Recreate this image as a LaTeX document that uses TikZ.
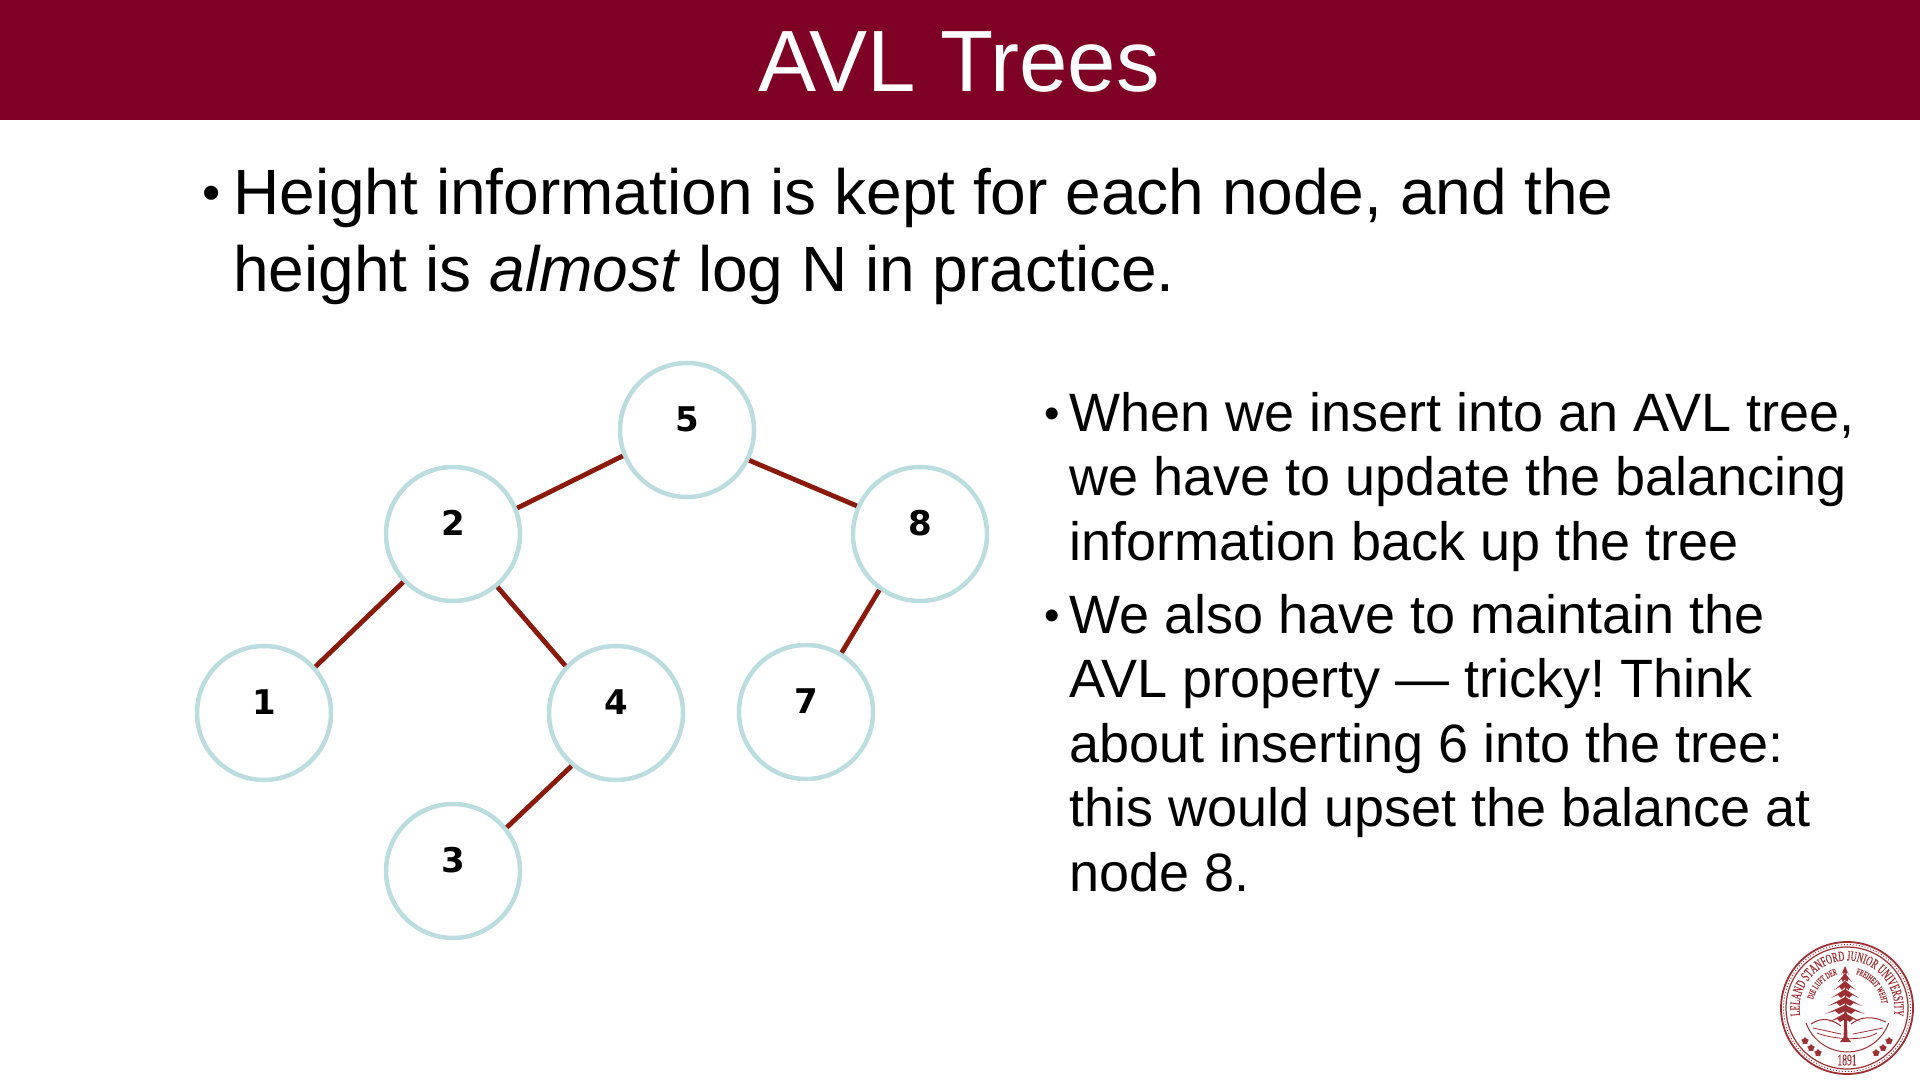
\documentclass[tikz,border=0pt]{standalone}
\usepackage{fontspec}
\setmainfont{Liberation Sans}
\newfontfamily\digitfont{DejaVu Sans}
\newfontfamily\sealfont[FakeStretch=0.6,FakeBold=0.4]{Liberation Serif}
\usetikzlibrary{positioning,calc}
\usetikzlibrary{decorations.text}
\usetikzlibrary{shapes.geometric}
\definecolor{bandred}{HTML}{7F0025}
\definecolor{edgered}{HTML}{8A1A0C}
\definecolor{ringblue}{HTML}{BCDDE0}
\definecolor{sealred}{HTML}{9C2F33}
\tikzset{
   treenode/.style = {circle,draw=ringblue,line width=2.25pt,fill=white,minimum size=67pt,
      inner sep=0pt,font=\digitfont\bfseries\fontsize{17}{17}\selectfont,text depth=11pt},
   treeedge/.style = {draw=edgered,line width=2.4pt},
   bigtext/.style = {anchor=north west,inner sep=0pt,align=left,
      font=\fontsize{32}{38.4}\selectfont},
   midtext/.style = {anchor=north west,inner sep=0pt,align=left,
      font=\frenchspacing\fontsize{27}{32.3}\selectfont},
   sealtree/.style = {fill=sealred,draw=none},
   sealstar/.style = {star,star points=5,fill=sealred,minimum size=4pt,inner sep=0pt},
}
\begin{document}
\begin{tikzpicture}[x=0.5pt,y=-0.5pt]
   \useasboundingbox (0,0) rectangle (1920,1080);

   % title band
   \fill[bandred] (0,0) rectangle (1920,120);
   \node[text=white,font=\fontsize{43.5}{44}\selectfont] (title) at (959,62) {AVL Trees};

   % top text
   \node[font=\fontsize{26}{26}\selectfont] (b0) at (212,198.5) {\textbullet};
   \node[bigtext] (t0) at (233,168) {Height information is kept for each node, and the\\
      height is \textit{almost} log N in practice.};

   % tree
   \node[treenode]                                   (n5) at (687,430) {5};
   \node[treenode,on grid,below left=52pt and 117pt of n5]  (n2) {2};
   \node[treenode,on grid,below right=52pt and 116.5pt of n5] (n8) {8};
   \node[treenode,on grid,below left=89.5pt and 94.5pt of n2] (n1) {1};
   \node[treenode,on grid,below right=89.5pt and 81.5pt of n2] (n4) {4};
   \node[treenode,on grid,below left=89pt and 57pt of n8]  (n7) {7};
   \node[treenode,on grid,below left=79pt and 81.5pt of n4]  (n3) {3};

   \draw[treeedge] (n2.22)  -- (n5.202);
   \draw[treeedge] (n5.-26) -- (n8.156);
   \draw[treeedge] (n2.224) -- (n1.42);
   \draw[treeedge] (n2.-50) -- (n4.137);
   \draw[treeedge] (n8.234) -- (n7.59);
   \draw[treeedge] (n4.230) -- (n3.39);

   % right text
   \node[font=\fontsize{22}{22}\selectfont] (b1) at (1052,418) {\textbullet};
   \node[midtext] (t1) at (1069,391.5) {When we insert into an AVL tree,\\
      we have to update the balancing\\
      information back up the tree};
   \node[font=\fontsize{22}{22}\selectfont] (b2) at (1052,620) {\textbullet};
   \node[midtext] (t2) at (1069,593.5) {We also have to maintain the\\
      AVL property --- tricky! Think\\
      about inserting 6 into the tree:\\
      this would upset the balance at\\
      node 8.};

   % seal
   \begin{scope}[shift={(1847,1008)},y=0.5pt,sealred]
      \draw[line width=0.9pt] (0,0) circle (66);
      \draw[line width=0.5pt,densely dotted] (0,0) circle (63.5);
      \draw[line width=0.6pt] (0,0) circle (61);
      \draw[line width=0.5pt] (-41,-15) arc (200:340:44);

      \path[decorate,decoration={text along path,text align=center,
         text={|\sealfont\fontsize{7}{7}\selectfont\color{sealred}|LELAND STANFORD JUNIOR UNIVERSITY}}]
         (199:47.5) arc (199:-19:47.5);
      \path[decorate,decoration={text along path,text align=center,
         text={|\sealfont\fontsize{4.6}{4.6}\selectfont\color{sealred}|DIE LUFT DER}}]
         (180:35) arc (180:92:35);
      \path[decorate,decoration={text along path,text align=center,
         text={|\sealfont\fontsize{4.6}{4.6}\selectfont\color{sealred}|FREIHEIT WEHT}}]
         (82:35) arc (82:0:35);
      \node[font=\sealfont\fontsize{8}{8}\selectfont,text=sealred,inner sep=0pt] (year) at (0,-52) {1891};

      \foreach \sx/\sy [count=\si] in {-42/-33,-36/-40,-29/-45,29/-45,36/-40,42/-33}
         \node[sealstar] (star\si) at (\sx,\sy) {};

      % hills
      \draw[line width=0.5pt] (-36,-16) .. controls (-24,-8) and (-14,-12) .. (-6,-18);
      \draw[line width=0.5pt] (4,-16) .. controls (14,-8) and (26,-8) .. (39,-14);
      \draw[line width=0.4pt] (-34,-20) -- (-6,-26);
      \draw[line width=0.4pt] (6,-26) -- (36,-20);
      \draw[line width=0.4pt] (-30,-25) .. controls (-15,-31) and (15,-34) .. (30,-25);

      % tree
      \fill[sealtree] (-3.5,-32) -- (-1.5,36) -- (0.5,-32) -- cycle;
      \fill[sealtree] (-7,-34) -- (-1.5,-27) -- (4,-34) -- cycle;
      \foreach \ty/\tw in {-12/16,-4/20,4/17,12/14,20/11,28/7,35/4}
         \fill[sealtree] (-2,\ty+7) -- (-2-\tw,\ty-2) -- (-2-\tw*0.5,\ty+1) -- (-2-\tw*0.3,\ty-2)
            -- (-2,\ty+1) -- (-2+\tw*0.3,\ty-2) -- (-2+\tw*0.5,\ty+1) -- (-2+\tw,\ty-2) -- cycle;
   \end{scope}
\end{tikzpicture}
\end{document}
